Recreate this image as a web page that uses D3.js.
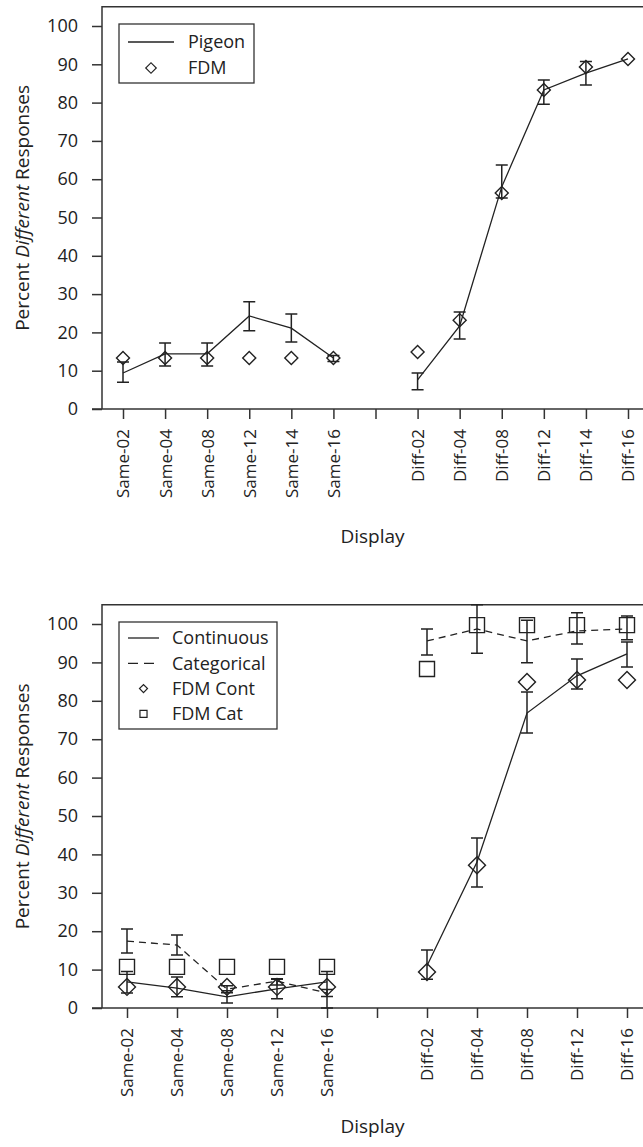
<!DOCTYPE html>
<html>
<head>
<meta charset="utf-8">
<script src="https://cdn.jsdelivr.net/npm/d3@7"></script>
<style>
  body { margin: 0; background: #fff; }
  svg { display: block; font-family: "Open Sans", "Noto Sans", sans-serif; }
</style>
</head>
<body>
<svg id="chart" width="643" height="1147"></svg>
<script>
// top panel: pigeon vs FDM
const topCats = ["Same-02", "Same-04", "Same-08", "Same-12", "Same-14", "Same-16", "gap",
    "Diff-02", "Diff-04", "Diff-08", "Diff-12", "Diff-14", "Diff-16"];
const pigeonMean = [9.4, 14.4, 14.4, 24.3, 21.1, 13.3, null, 7.6, 21.7, 58.0, 83.3, 87.7, 91.4];
const pigeonLo = [7.0, 11.2, 11.2, 20.4, 17.5, 12.4, null, 5.0, 18.3, 55.1, 79.6, 84.6, null];
const pigeonHi = [12.3, 17.2, 17.2, 28.0, 24.8, 14.0, null, 9.4, 25.3, 63.7, 85.9, 90.7, null];
const fdmTop = [13.3, 13.3, 13.3, 13.3, 13.3, 13.3, null, 14.9, 23.2, 56.4, 83.3, 89.3, 91.4];

// bottom panel: continuous vs categorical
const botCats = ["Same-02", "Same-04", "Same-08", "Same-12", "Same-16", "gap",
    "Diff-02", "Diff-04", "Diff-08", "Diff-12", "Diff-16"];
const contMean = [6.8, 5.2, 2.9, 5.0, 6.8, null, 11.0, 38.0, 76.8, 86.5, 92.2];
const contLo = [3.9, 2.9, 1.3, 2.4, 0.0, null, 7.5, 31.5, 71.6, 83.1, 88.8];
const contHi = [9.5, 8.1, 4.5, 7.5, 9.5, null, 15.1, 44.3, 82.3, 90.9, 95.3];
const catMean = [17.4, 16.4, 4.9, 7.0, 3.9, null, 95.6, 98.7, 95.6, 98.2, 98.7];
const catLo = [14.3, 13.8, 4.0, 6.0, 3.0, null, 91.9, 92.4, 89.9, 94.8, 95.9];
const catHi = [20.6, 19.0, 5.8, 7.6, 4.8, null, 98.7, 105.0, 101.0, 102.9, 102.1];
const fdmCont = [5.5, 5.5, 5.5, 5.5, 5.5, null, 9.4, 37.2, 84.9, 85.4, 85.4];
const fdmCat = [10.7, 10.7, 10.7, 10.7, 10.7, null, 88.3, 99.7, 99.7, 99.7, 99.7];

const yTicks = [0, 10, 20, 30, 40, 50, 60, 70, 80, 90, 100];

let svg = d3.select("#chart");
let ink = "#222";

let markTransform = function (x, y, rot) {
    return "translate(" + x + "," + y + ")" + (rot ? " rotate(45)" : "");
};

let drawPanel = function (p) {
    let g = svg.append("g");

    let scX = d3.scalePoint().domain(p.cats).range(p.xRange);
    let scY = d3.scaleLinear().domain([0, 100]).range([p.y0, p.y100]);

    // frame (top + left), right side runs off the page
    g.append("path")
        .attr("fill", "none")
        .attr("stroke", "#333")
        .attr("stroke-width", 1.5)
        .attr("d", "M" + p.left + "," + scY(0) + "V" + scY(105) + "H" + 660);

    let yAx = g.append("g")
        .attr("transform", "translate(" + p.left + ",0)")
        .call(d3.axisLeft(scY).tickValues(yTicks).tickSize(10).tickSizeOuter(0).tickPadding(14));
    yAx.select(".domain").remove();
    yAx.selectAll(".tick text").attr("font-size", 18);

    let xAx = g.append("g")
        .attr("transform", "translate(0," + scY(0) + ")")
        .call(d3.axisBottom(scX).tickSize(10).tickSizeOuter(0)
            .tickFormat((d) => (d === "gap" ? "" : d)));
    xAx.select(".domain").attr("d", "M" + (p.left - 10) + ",0H660");
    xAx.selectAll(".tick text")
        .attr("transform", "rotate(-90)")
        .attr("text-anchor", "end")
        .attr("x", -20)
        .attr("y", 0)
        .attr("dy", "0.35em")
        .attr("font-size", 17);

    g.selectAll(".tick line, .domain").attr("stroke", "#333").attr("stroke-width", 1.5);
    g.selectAll(".tick text").attr("fill", ink)
        .attr("font-family", "'Open Sans', sans-serif");

    // axis titles
    let ty = g.append("text")
        .attr("transform", "translate(22," + (scY(0) + scY(105)) / 2 + ") rotate(-90)")
        .attr("text-anchor", "middle")
        .attr("dy", "0.35em")
        .attr("font-size", 19)
        .attr("fill", ink);
    ty.append("tspan").text("Percent ");
    ty.append("tspan").attr("font-style", "italic").text("Different");
    ty.append("tspan").text(" Responses");

    g.append("text")
        .attr("x", (p.left + 643) / 2)
        .attr("y", p.titleY)
        .attr("text-anchor", "middle")
        .attr("font-size", 19)
        .attr("fill", ink)
        .text("Display");

    // series lines
    p.series.forEach((s) => {
        let rows = p.cats.map((c, i) => ({ c: c, m: s.mean[i], lo: s.lo[i], hi: s.hi[i] }));
        let lnMkr = d3.line()
            .defined((d) => d.m != null)
            .x((d) => scX(d.c))
            .y((d) => scY(d.m));
        g.append("path")
            .attr("fill", "none")
            .attr("stroke", ink)
            .attr("stroke-width", 1.3)
            .attr("stroke-dasharray", s.dash)
            .attr("d", lnMkr(rows));

        let eb = g.append("g").attr("stroke", ink).attr("stroke-width", 1.5).attr("fill", "none");
        rows.filter((d) => d.lo != null).forEach((d) => {
            let x = scX(d.c);
            eb.append("path").attr("d",
                "M" + x + "," + scY(d.lo) + "V" + scY(d.hi) +
                "M" + (x - 6) + "," + scY(d.lo) + "H" + (x + 6) +
                "M" + (x - 6) + "," + scY(d.hi) + "H" + (x + 6));
        });
    });

    // model markers
    p.markers.forEach((m) => {
        let sym = d3.symbol().type(d3.symbolSquare).size(m.size);
        g.append("g").selectAll("path")
            .data(p.cats.map((c, i) => ({ c: c, v: m.vals[i] })).filter((d) => d.v != null))
            .enter()
            .append("path")
            .attr("d", sym)
            .attr("transform", (d) => markTransform(scX(d.c), scY(d.v), m.rot))
            .attr("fill", "none")
            .attr("stroke", ink)
            .attr("stroke-width", 1.4);
    });

    // legend
    let L = p.legend;
    let lg = g.append("g");
    lg.append("rect")
        .attr("x", L.x).attr("y", L.y)
        .attr("width", L.w).attr("height", L.h)
        .attr("fill", "#fff").attr("stroke", "#333").attr("stroke-width", 1.3);
    L.items.forEach((it, i) => {
        let cy = L.y + L.first + i * L.step;
        if (it.size === undefined) {
            lg.append("line")
                .attr("x1", L.x + 9).attr("x2", L.x + 9 + L.lineW)
                .attr("y1", cy).attr("y2", cy)
                .attr("stroke", ink).attr("stroke-width", 1.3)
                .attr("stroke-dasharray", it.dash);
        } else {
            lg.append("path")
                .attr("d", d3.symbol().type(d3.symbolSquare).size(it.size))
                .attr("transform", markTransform(L.x + 9 + L.lineW / 2, cy, it.rot))
                .attr("fill", "none").attr("stroke", ink).attr("stroke-width", 1.2);
        }
        lg.append("text")
            .attr("x", L.textX).attr("y", cy)
            .attr("dy", "0.35em")
            .attr("font-size", 18)
            .attr("fill", ink)
            .text(it.label);
    });
};

drawPanel({
    cats: topCats,
    xRange: [123, 628],
    left: 102,
    y0: 409,
    y100: 26,
    titleY: 543,
    series: [{ mean: pigeonMean, lo: pigeonLo, hi: pigeonHi, dash: null }],
    markers: [{ vals: fdmTop, size: 85, rot: true }],
    legend: {
        x: 119, y: 24, w: 135, h: 59, first: 18, step: 26, lineW: 46, textX: 188,
        items: [
            { label: "Pigeon", dash: null },
            { label: "FDM", size: 55, rot: true },
        ],
    },
});

drawPanel({
    cats: botCats,
    xRange: [127, 627],
    left: 102,
    y0: 1008,
    y100: 624,
    titleY: 1133,
    series: [
        { mean: contMean, lo: contLo, hi: contHi, dash: null },
        { mean: catMean, lo: catLo, hi: catHi, dash: "7,5" },
    ],
    markers: [
        { vals: fdmCont, size: 144, rot: true },
        { vals: fdmCat, size: 225, rot: false },
    ],
    legend: {
        x: 119, y: 622, w: 158, h: 107, first: 16, step: 25.3, lineW: 31, textX: 172,
        items: [
            { label: "Continuous", dash: null },
            { label: "Categorical", dash: "10,6" },
            { label: "FDM Cont", size: 32, rot: true },
            { label: "FDM Cat", size: 50, rot: false },
        ],
    },
});
</script>
</body>
</html>
